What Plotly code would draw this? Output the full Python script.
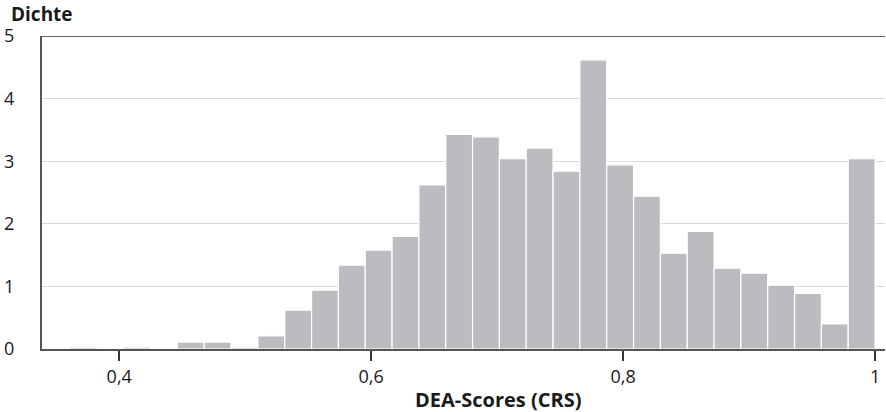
import plotly.graph_objects as go

# Histogram of DEA-Scores (CRS): 30 bins from ~0.361 to 1.0
bin_start = 0.3610
bin_width = 0.02130
density = [0.03, 0.0, 0.03, 0.0, 0.11, 0.11, 0.03, 0.21, 0.62, 0.94,
           1.34, 1.58, 1.80, 2.62, 3.43, 3.39, 3.04, 3.21, 2.84, 4.62,
           2.94, 2.44, 1.53, 1.88, 1.29, 1.21, 1.02, 0.89, 0.40, 3.04]
x_tick_vals = [0.4, 0.6, 0.8, 1.0]
x_tick_text = ["0,4", "0,6", "0,8", "1"]
y_tick_vals = [0, 1, 2, 3, 4, 5]

centers = [bin_start + bin_width * (i + 0.5) for i in range(len(density))]

font_family = "Open Sans, Noto Sans, sans-serif"

fig = go.Figure(go.Bar(
    x=centers, y=density, width=bin_width,
    marker=dict(color="#BBBCC0", line=dict(color="white", width=1.2)),
    hoverinfo="skip"
))

fig.update_layout(
    width=886, height=412,
    margin=dict(l=42, r=1, t=36, b=63),
    paper_bgcolor="white", plot_bgcolor="white",
    showlegend=False,
    font=dict(family=font_family, size=18, color="#1a1a1a"),
    xaxis=dict(
        range=[0.3387, 1.0079], automargin=False,
        tickvals=x_tick_vals, ticktext=x_tick_text,
        ticks="outside", ticklen=10, tickwidth=1.5, tickcolor="#333",
        showline=True, linecolor="#555", linewidth=2,
        showgrid=False, zeroline=False,
        tickfont=dict(size=18),
    ),
    yaxis=dict(
        range=[0, 5], automargin=False,
        tickvals=y_tick_vals,
        ticks="", ticklabelstandoff=22,
        showline=True, linecolor="#555", linewidth=2,
        showgrid=True, gridcolor="#D9D9D9", gridwidth=1,
        zeroline=False,
        tickfont=dict(size=18),
    ),
    shapes=[dict(type="line", xref="paper", yref="y", x0=0, x1=1, y0=5, y1=5,
                 line=dict(color="#333", width=1.5))],
    annotations=[
        dict(text="<b>Dichte</b>", xref="paper", yref="paper",
             x=-0.039, y=1.0, xanchor="left", yanchor="bottom",
             yshift=7, showarrow=False,
             font=dict(size=19, family=font_family)),
        dict(text="<b>DEA-Scores (CRS)</b>", xref="paper", yref="paper",
             x=0.5405, y=0, xanchor="center", yanchor="middle",
             yshift=-50, showarrow=False,
             font=dict(size=20, family=font_family)),
    ],
)

fig.write_html("out.html", config={"displayModeBar": False},
               post_script="document.body.style.margin='0';document.body.style.padding='0';")
